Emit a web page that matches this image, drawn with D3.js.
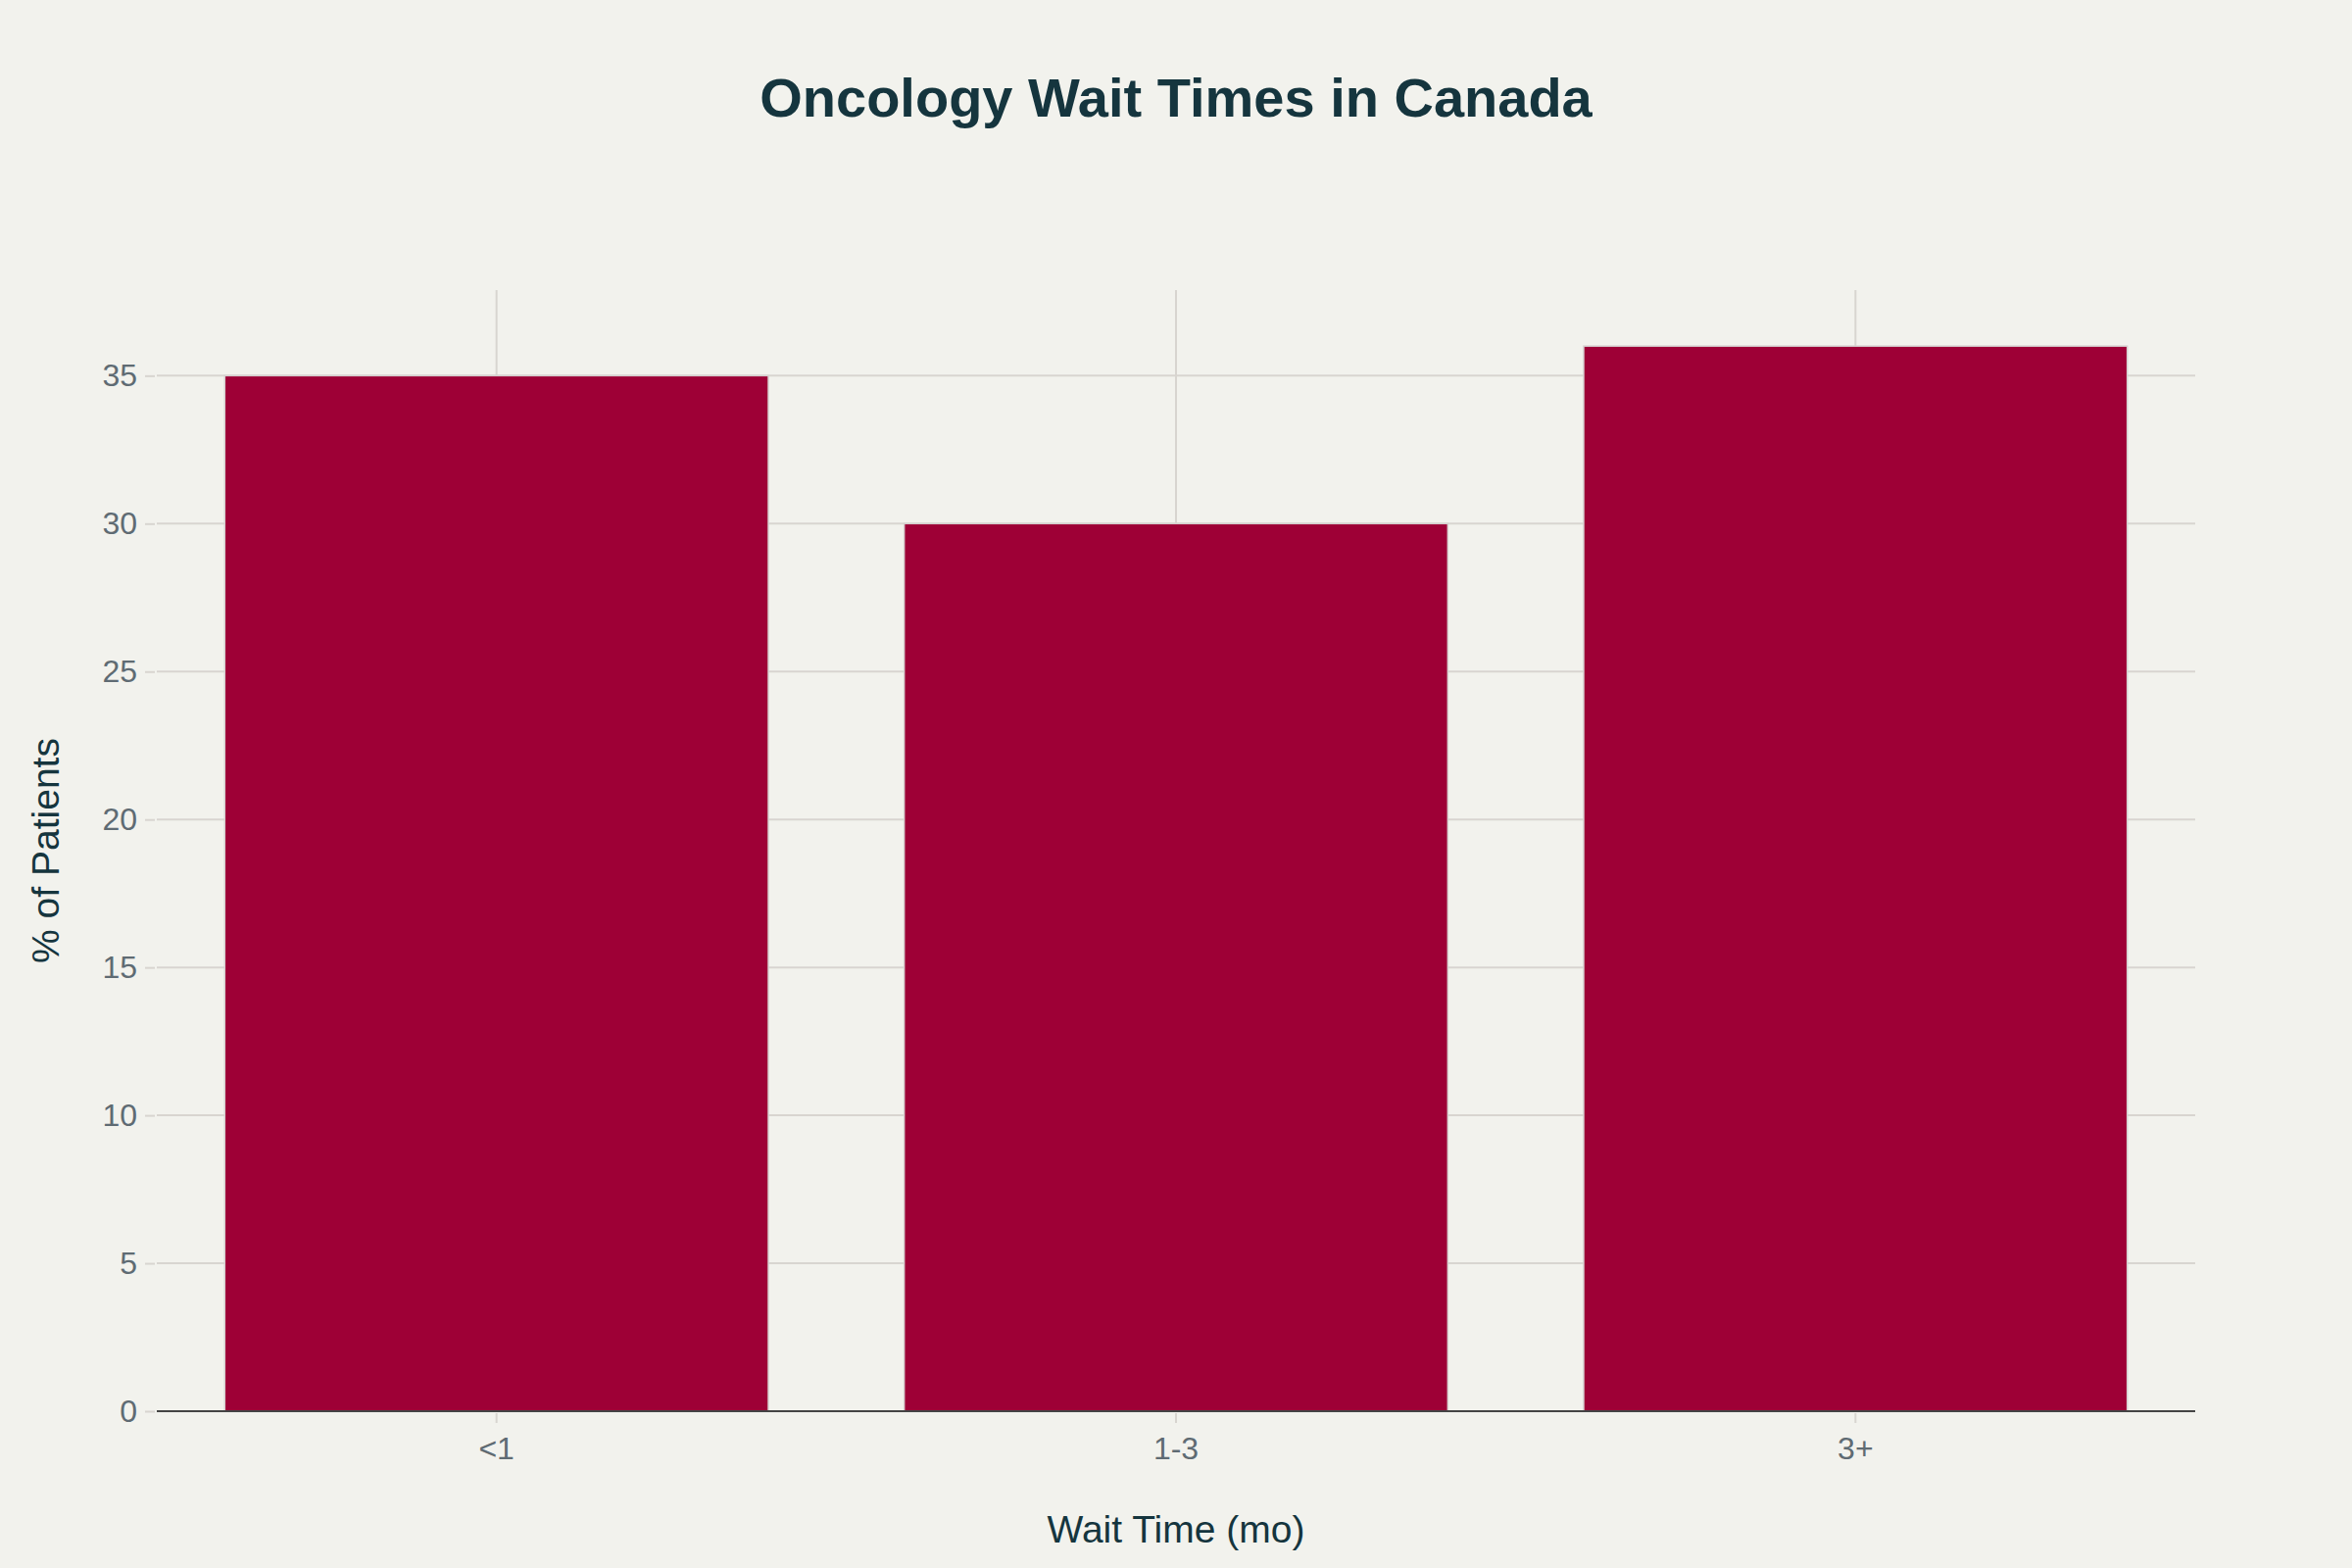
<!DOCTYPE html>
<html>
<head>
<meta charset="utf-8">
<script src="https://cdn.jsdelivr.net/npm/d3@7"></script>
<style>
  html, body { margin: 0; padding: 0; background: #f2f2ed; }
  svg { display: block; }
  text { font-family: "Liberation Sans", Arial, sans-serif; }
</style>
</head>
<body>
<svg id="chart" width="2400" height="1600"></svg>
<script>
const categories = ["<1", "1-3", "3+"];
const values = [35, 30, 36];
const yTicks = [0, 5, 10, 15, 20, 25, 30, 35];
const titleText = "Oncology Wait Times in Canada";
const xTitle = "Wait Time (mo)";
const yTitle = "% of Patients";

const W = 2400, H = 1600;
const margin = { left: 160, right: 160, top: 296, bottom: 160 };
const svg = d3.select("#chart");
svg.append("rect").attr("width", W).attr("height", H).attr("fill", "#f2f2ed");

const x = d3.scaleBand().domain(categories).range([margin.left, W - margin.right]).paddingInner(0.2).paddingOuter(0.1);
const y = d3.scaleLinear().domain([0, d3.max(values) * 1.0526]).range([H - margin.bottom, margin.top]);

const gridColor = "#d8d5d0";

// horizontal gridlines
svg.append("g").selectAll("line").data(yTicks.filter(d => d > 0)).join("line")
  .attr("x1", margin.left).attr("x2", W - margin.right)
  .attr("y1", d => y(d)).attr("y2", d => y(d))
  .attr("stroke", gridColor).attr("stroke-width", 2);

// vertical gridlines at category centers
svg.append("g").selectAll("line").data(categories).join("line")
  .attr("x1", d => x(d) + x.bandwidth() / 2).attr("x2", d => x(d) + x.bandwidth() / 2)
  .attr("y1", margin.top).attr("y2", H - margin.bottom)
  .attr("stroke", gridColor).attr("stroke-width", 2);

// bars
svg.append("g").selectAll("rect").data(values).join("rect")
  .attr("x", (d, i) => x(categories[i]))
  .attr("width", x.bandwidth())
  .attr("y", d => y(d))
  .attr("height", d => y(0) - y(d))
  .attr("fill", "#9e0036")
  .attr("stroke", "#d6d0cf").attr("stroke-width", 1.5);

// zero line
svg.append("line")
  .attr("x1", margin.left).attr("x2", W - margin.right)
  .attr("y1", y(0)).attr("y2", y(0))
  .attr("stroke", "#444444").attr("stroke-width", 2);

// y axis
const yAxis = d3.axisLeft(y).tickValues(yTicks).tickSize(10).tickPadding(8).tickFormat(d3.format("d"));
const gy = svg.append("g").attr("transform", `translate(${margin.left - 2},0)`).call(yAxis);
gy.select(".domain").remove();
gy.selectAll(".tick line").attr("stroke", gridColor).attr("stroke-width", 2);
gy.selectAll(".tick text").attr("fill", "#5f6b73").attr("font-size", 32)
  .attr("font-family", "Liberation Sans, Arial, sans-serif");

// x axis
const xAxis = d3.axisBottom(x).tickSize(10).tickPadding(14);
const gx = svg.append("g").attr("transform", `translate(0,${y(0) + 2})`).call(xAxis);
gx.select(".domain").remove();
gx.selectAll(".tick line").attr("stroke", gridColor).attr("stroke-width", 2);
gx.selectAll(".tick text").attr("fill", "#5f6b73").attr("font-size", 32)
  .attr("font-family", "Liberation Sans, Arial, sans-serif");

// title
svg.append("text").attr("x", W / 2).attr("y", 119).attr("text-anchor", "middle")
  .attr("font-size", 56).attr("font-weight", "bold").attr("fill", "#15353e")
  .text(titleText);

// axis titles
svg.append("text").attr("x", (margin.left + W - margin.right) / 2).attr("y", 1574).attr("text-anchor", "middle")
  .attr("font-size", 39).attr("fill", "#15353e").text(xTitle);

svg.append("text").attr("transform", `translate(60,${(margin.top + H - margin.bottom) / 2}) rotate(-90)`)
  .attr("text-anchor", "middle").attr("font-size", 39).attr("fill", "#15353e").text(yTitle);
</script>
</body>
</html>
